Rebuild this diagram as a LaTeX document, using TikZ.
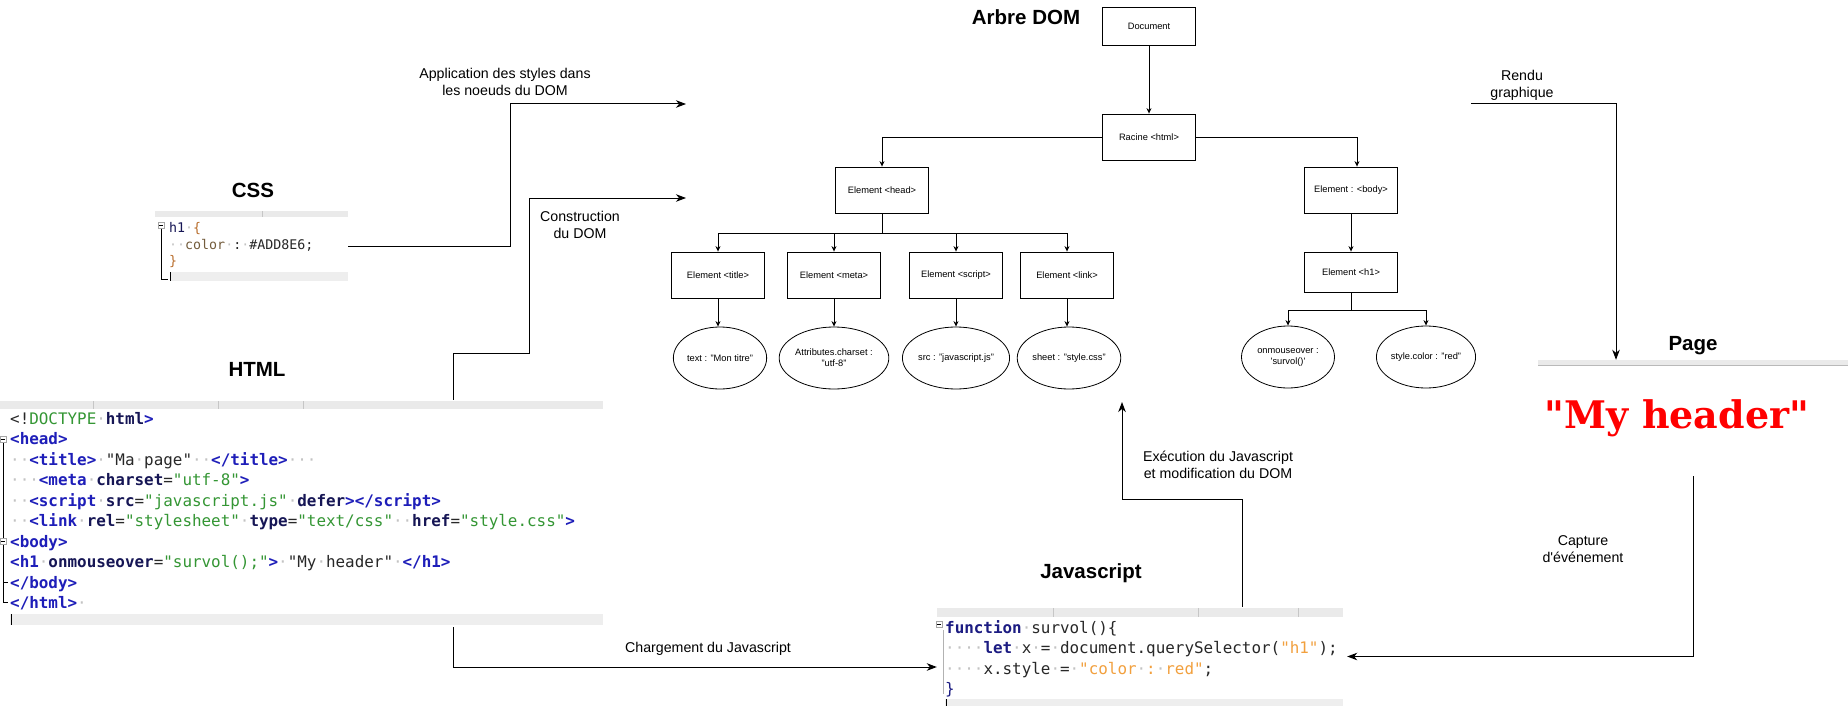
\documentclass[tikz,border=0pt]{standalone}
\usepackage{fontspec}
\setmainfont{Liberation Sans}
\newfontfamily\codefont{DejaVu Sans Mono}
\newfontfamily\pagefont{DejaVu Serif}
\usetikzlibrary{arrows.meta,shapes.geometric,positioning}
\definecolor{tagblue}{RGB}{30,30,185}
\definecolor{attrnavy}{RGB}{22,22,85}
\definecolor{strgreen}{RGB}{52,150,52}
\definecolor{jsorange}{RGB}{242,160,62}
\definecolor{jsnavy}{RGB}{28,28,130}
\definecolor{txtgray}{RGB}{40,40,40}
\definecolor{wsgray}{RGB}{195,195,195}
\definecolor{bargray}{RGB}{234,234,234}
\definecolor{curgray}{RGB}{238,238,238}
\definecolor{cssbrown}{RGB}{185,110,45}
\definecolor{csskey}{RGB}{115,92,60}
\newcommand{\dotws}{\textcolor{wsgray}{·}}
\newcommand{\tagc}[1]{\textcolor{tagblue}{\bfseries #1}}
\newcommand{\attrc}[1]{\textcolor{attrnavy}{\bfseries #1}}
\newcommand{\strc}[1]{\textcolor{strgreen}{#1}}
\newcommand{\plainc}[1]{\textcolor{txtgray}{#1}}
\newcommand{\jsstr}[1]{\textcolor{jsorange}{#1}}
\newcommand{\codeline}[4]{\node[codetxt] (#1) at (#2,#3) {#4};}
\newcommand{\cssline}[4]{\node[csstxt] (#1) at (#2,#3) {#4};}
\newcommand{\foldbox}[2]{\draw[gray!70,line width=0.6pt,fill=white] (#1,#2) rectangle ++(6,6); \draw[black,line width=0.6pt] (#1+1.2,#2+3) -- ++(3.6,0);}

\begin{document}
\begin{tikzpicture}[x=1pt,y=-1pt,
  domnode/.style={draw, line width=0.8pt, minimum width=93pt, minimum height=46pt, inner sep=2pt, font=\fontsize{9.3}{11}\selectfont},
  domleaf/.style={draw, ellipse, line width=0.8pt, minimum width=93pt, minimum height=62pt, inner sep=0pt, align=center, font=\fontsize{9.3}{11}\selectfont},
  tree/.style={line width=0.9pt, -{Stealth[length=5.5pt,width=5pt]}},
  flow/.style={line width=1pt, -{Stealth[length=10pt,width=7.5pt,inset=3pt]}},
  lbl/.style={align=center, inner sep=0pt, font=\fontsize{14.2}{17}\selectfont},
  ttl/.style={inner sep=0pt, font=\fontsize{20.5}{23}\selectfont\bfseries},
  codetxt/.style={anchor=base west, inner sep=0pt, text=txtgray, font={\codefont\fontsize{15.9}{19}\selectfont}},
  csstxt/.style={codetxt, font={\codefont\fontsize{13.3}{16}\selectfont}},
  shot/.style={inner sep=0pt, fill=white}]
\useasboundingbox (0,0) rectangle (1848,706);

% screenshots of the sources
\node[shot, minimum width=193pt, minimum height=71pt] (cssblk) at (251.5,246) {};
\node[shot, minimum width=603pt, minimum height=227pt] (htmlblk) at (301.5,513.5) {};
\node[shot, minimum width=406pt, minimum height=99pt] (jsblk) at (1140,656.5) {};
\node[shot, minimum width=310pt, minimum height=116pt] (pageblk) at (1693,418) {};

% editor bars and current lines
\fill[bargray] (155,211) rectangle (348,217);
\fill[bargray] (0,401) rectangle (603,409);
\fill[bargray] (937,608) rectangle (1343,617);
\foreach \x in {262} \draw[gray!45] (\x,211) -- (\x,217);
\foreach \x in {93,218,303} \draw[gray!45] (\x,401) -- (\x,409);
\foreach \x in {1053,1198,1298} \draw[gray!45] (\x,608) -- (\x,617);
\fill[curgray] (170,272) rectangle (348,281);
\fill[curgray] (10,614) rectangle (603,625);
\fill[curgray] (945,699) rectangle (1343,706);
\draw[line width=0.8pt] (170.5,272) -- (170.5,281);
\draw[line width=0.8pt] (11,614) -- (11,625);
\draw[line width=0.8pt] (946,699) -- (946,706);

% fold margins
\draw[line width=0.7pt] (161,229) -- (161,279) -- (168,279);
\foldbox{158}{222}
\draw[line width=0.7pt] (3,442) -- (3,602) -- (8,602);
\draw[line width=0.7pt] (3,582) -- (8,582);
\foldbox{0}{436}
\foldbox{0}{538}
\draw[gray!60,line width=0.6pt] (943,630) -- (943,694);
\foldbox{936}{621}

% CSS
\cssline{css1}{169}{232}{\textcolor{attrnavy}{h1}\dotws\textcolor{cssbrown}{\{}}
\cssline{css2}{169}{249}{\dotws\dotws\textcolor{csskey}{color}\dotws:\dotws\#ADD8E6;}
\cssline{css3}{169}{265}{\textcolor{cssbrown}{\}}}

% HTML
\codeline{html1}{10}{424}{\plainc{<!}\strc{DOCTYPE}\dotws\attrc{html}\tagc{>}}
\codeline{html2}{10}{444.5}{\tagc{<head>}}
\codeline{html3}{10}{465}{\dotws\dotws\tagc{<title>}\dotws"Ma\dotws page"\dotws\dotws\tagc{</title>}\dotws\dotws\dotws}
\codeline{html4}{10}{485.5}{\dotws\dotws\dotws\tagc{<meta}\dotws\attrc{charset}=\strc{"utf-8"}\tagc{>}}
\codeline{html5}{10}{506}{\dotws\dotws\tagc{<script}\dotws\attrc{src}=\strc{"javascript.js"}\dotws\attrc{defer}\tagc{></script>}}
\codeline{html6}{10}{526.5}{\dotws\dotws\tagc{<link}\dotws\attrc{rel}=\strc{"stylesheet"}\dotws\attrc{type}=\strc{"text/css"}\dotws\dotws\attrc{href}=\strc{"style.css"}\tagc{>}}
\codeline{html7}{10}{547}{\tagc{<body>}}
\codeline{html8}{10}{567.5}{\tagc{<h1}\dotws\attrc{onmouseover}=\strc{"survol();"}\tagc{>}\dotws"My\dotws header"\dotws\tagc{</h1>}}
\codeline{html9}{10}{588}{\tagc{</body>}}
\codeline{html10}{10}{608.5}{\tagc{</html>}\dotws}

% Javascript
\codeline{js1}{945}{633}{\textcolor{jsnavy}{\bfseries function}\dotws survol()\{}
\codeline{js2}{945}{653.5}{\dotws\dotws\dotws\dotws\textcolor{jsnavy}{\bfseries let}\dotws x\dotws=\dotws document.querySelector(\jsstr{"h1"});}
\codeline{js3}{945}{674}{\dotws\dotws\dotws\dotws x.style\dotws=\dotws\jsstr{"color\dotws:\dotws red"};}
\codeline{js4}{945}{694.5}{\textcolor{jsnavy}{\}}}

% page
\fill[bargray] (1538,360) rectangle (1848,365);
\draw[gray!55,line width=0.8pt] (1538,365.5) -- (1848,365.5);
\node[anchor=base, inner sep=0pt, text=red, font=\pagefont\bfseries\fontsize{38}{40}\selectfont] (myheader) at (1677,428) {"My header"};

% titles
\node[ttl] (tdom) at (1026,17) {Arbre DOM};
\node[ttl] (tcss) at (253,190) {CSS};
\node[ttl] (thtml) at (257,369) {HTML};
\node[ttl] (tjs) at (1091,573) {Javascript};
\node[ttl] (tpage) at (1693,346) {Page};

% DOM tree
\node[domnode, minimum height=38pt] (doc) at (1149,26) {Document};
\node[domnode] (racine) at (1149,137) {Racine <html>};
\node[domnode] (head) at (882,190) {Element <head>};
\node[domnode] (body) at (1351,190) {Element : <body>};
\node[domnode, minimum height=40pt] (hone) at (1351,272) {Element <h1>};
\node[domnode] (etitle) at (718,275) {Element <title>};
\node[domnode] (emeta) at (834,275) {Element <meta>};
\node[domnode] (escript) at (956,275) {Element <script>};
\node[domnode] (elink) at (1067,275) {Element <link>};
\node[domleaf] (vtitle) at (720,358) {text : "Mon titre"};
\node[domleaf] (vmeta) at (834,358) {Attributes.charset :\\"utf-8"};
\node[domleaf] (vscript) at (956,358) {src : "javascript.js"};
\node[domleaf] (vlink) at (1069,358) {sheet : "style.css"};
\node[domleaf] (vmouse) at (1288,357) {onmouseover :\\\textquotesingle survol()\textquotesingle};
\node[domleaf] (vcolor) at (1426,357) {style.color : "red"};

\coordinate (hsplit) at (882,233);
\coordinate (h1split) at (1351,310);
\draw[tree] (doc) -- (racine);
\draw[tree] (racine.west) -| (head.north);
\draw[tree] (racine.east) -| ([xshift=6pt]body.north);
\draw[tree] (body) -- (hone);
\foreach \n in {etitle,emeta,escript,elink}
  \draw[tree] (head.south) -- (hsplit) -| (\n.north);
\foreach \a/\b in {etitle/vtitle,emeta/vmeta,escript/vscript,elink/vlink}
  \draw[tree] (\a.south) -- (\a.south |- \b.north);
\foreach \n in {vmouse,vcolor}
  \draw[tree] (hone.south) -- (h1split) -| (\n.north);

% flows between the parts
\coordinate (domin1) at (686,104);
\coordinate (domin2) at (686,198);
\coordinate (domout) at (1471,104);
\coordinate (domjs) at (1122,402);
\draw[flow] (cssblk.east) -- ++(162,0) |- (domin1);
\draw[flow] ([xshift=151.5pt]htmlblk.north) |- ++(76,-46) |- (domin2);
\draw[flow] ([xshift=151.5pt]htmlblk.south) |- ([yshift=-10.5pt]jsblk.west);
\draw[flow] ([xshift=102pt]jsblk.north) |- ++(-120,-107) -- (domjs);
\draw[flow] (domout) -| ([xshift=-77pt]pageblk.north);
\draw[flow] (pageblk.south) |- ([xshift=4pt]jsblk.east);

\node[lbl] (lapply) at (505,82) {Application des styles dans\\les noeuds du DOM};
\node[lbl] (lconstr) at (580,225) {Construction\\du DOM};
\node[lbl] (lcharg) at (708,649) {Chargement du Javascript};
\node[lbl] (lexec) at (1218,465) {Exécution du Javascript\\et modification du DOM};
\node[lbl] (lrendu) at (1522,85) {Rendu\\graphique};
\node[lbl] (lcapt) at (1583,549) {Capture\\d\textquotesingle événement};
\end{tikzpicture}
\end{document}
